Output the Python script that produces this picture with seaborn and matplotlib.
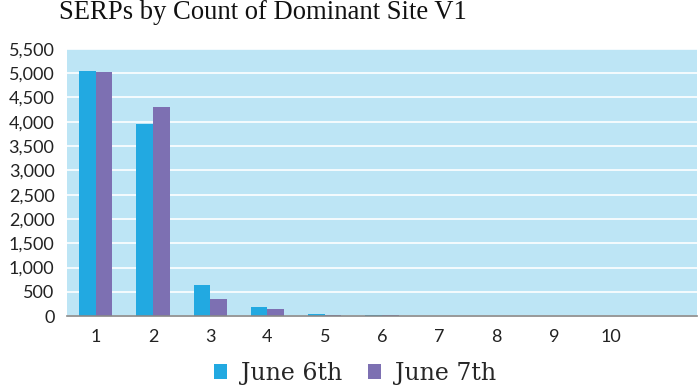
import numpy as np
import pandas as pd
import seaborn as sns
import matplotlib.pyplot as plt
from matplotlib.ticker import FixedLocator, FuncFormatter

CATEGORIES = ['1', '2', '3', '4', '5', '6', '7', '8', '9', '10']
JUNE_6 = [5040, 3955, 640, 185, 45, 18, 0, 0, 0, 0]
JUNE_7 = [5020, 4305, 350, 145, 25, 14, 0, 0, 0, 0]
SERIES = ['June 6th', 'June 7th']

BLUE = '#22A9E1'
PURPLE = '#7D70B2'
BG = '#BDE5F5'

# Long format for seaborn
df = pd.DataFrame({
    'count': CATEGORIES * 2,
    'serps': JUNE_6 + JUNE_7,
    'date': [SERIES[0]] * len(CATEGORIES) + [SERIES[1]] * len(CATEGORIES),
})

sns.set_style('white')
plt.rcParams['font.family'] = ['Lato', 'DejaVu Sans']

fig = plt.figure(figsize=(6.98, 3.85), dpi=100)
ax = fig.add_axes([0.096, 0.179, 0.9026, 0.694])

sns.barplot(data=df, x='count', y='serps', hue='date', order=CATEGORIES,
            hue_order=SERIES, palette=[BLUE, PURPLE], width=0.58,
            saturation=1, linewidth=0, ax=ax)

ax.set_facecolor(BG)
ax.set_xlim(-0.5, len(CATEGORIES) + 0.5)
ax.set_ylim(0, 5500)
ax.set_yticks(np.arange(0, 5501, 500))
ax.yaxis.set_major_formatter(FuncFormatter(lambda v, p: f'{int(v):,}'))
ax.grid(axis='y', color='white', linewidth=1.2)
ax.set_axisbelow(True)

# x: labels in the middle, tick marks on category edges
ax.xaxis.set_minor_locator(FixedLocator(np.arange(-0.5, len(CATEGORIES) + 1, 1)))
ax.tick_params(axis='x', which='major', length=0, labelsize=13, pad=9,
               labelcolor='#222222')
ax.tick_params(axis='x', which='minor', length=5, width=1, color='#888888',
               direction='out')
ax.tick_params(axis='y', length=0, labelsize=13, pad=9, labelcolor='#222222')

for s in ['top', 'right', 'left']:
    ax.spines[s].set_visible(False)
ax.spines['bottom'].set_color('#888888')
ax.spines['bottom'].set_linewidth(1.2)

ax.set_xlabel('')
ax.set_ylabel('')

handles, labels = ax.get_legend_handles_labels()
ax.legend_.remove()
fig.legend(handles, labels, loc='center', bbox_to_anchor=(0.509, 0.03),
           ncol=2, frameon=False, handlelength=0.55, handleheight=0.55,
           handletextpad=0.6, columnspacing=1.1, borderpad=0,
           prop={'family': 'DejaVu Serif', 'size': 17})

fig.suptitle('SERPs by Count of Dominant Site V1', x=0.377, y=1.0,
             fontsize=19.2, family='Liberation Serif', color='#111111')

fig.savefig('out.png', dpi=100)
